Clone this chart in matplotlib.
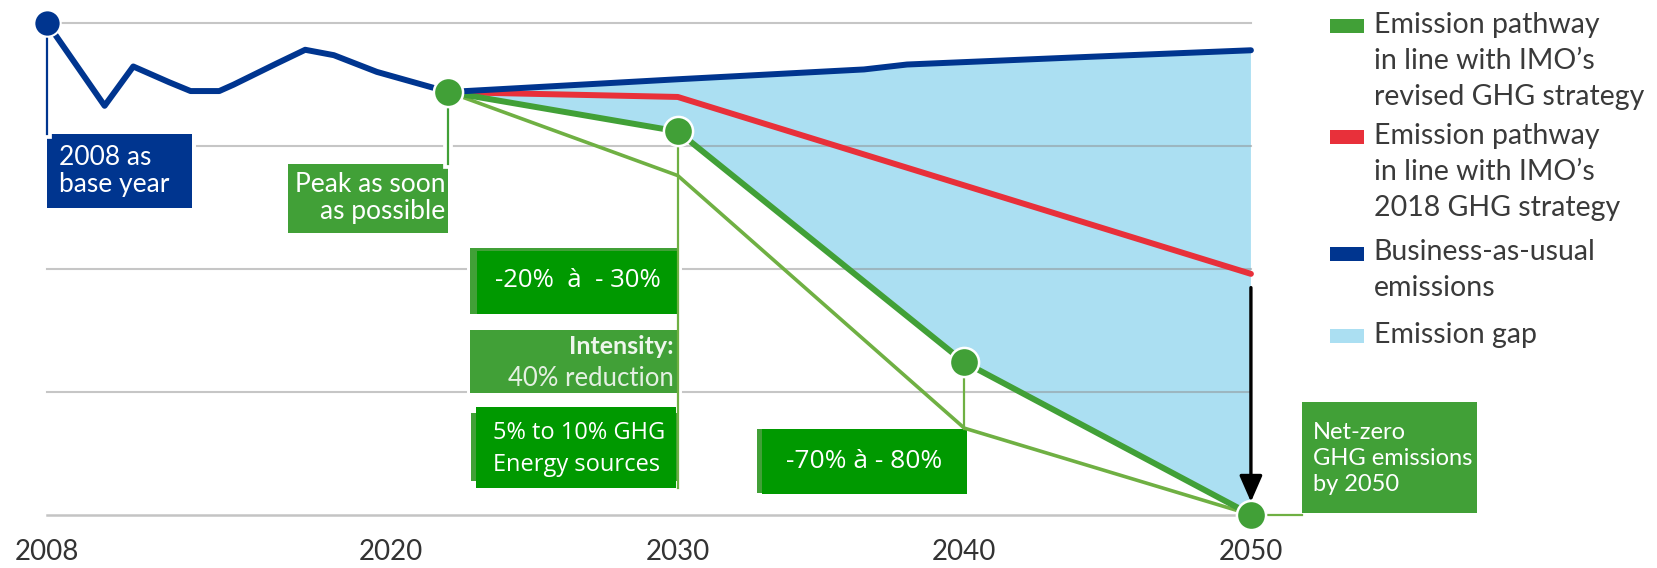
import numpy as np
import matplotlib.pyplot as plt
from matplotlib.patches import Rectangle
import matplotlib.patheffects as pe

plt.rcParams['font.family'] = ['Lato', 'DejaVu Sans']

# Data (index, 2008 = 100)
bau_years = [2008, 2010, 2011, 2012.25, 2013, 2014, 2014.5, 2016, 2017, 2018, 2019.5, 2022,
             2030, 2036.5, 2038, 2044.5, 2050]
bau_values = [100, 83.2, 91.2, 88, 86.2, 86.2, 87.5, 91.8, 94.6, 93.5, 90.1, 86,
              88.6, 90.6, 91.6, 93.2, 94.5]
peak_year = 2022

strategy2018_years = [2022, 2030, 2050]
strategy2018_values = [86, 85, 49]

revised_years = [2022, 2030, 2040, 2050]
revised_values = [86, 78, 31, 0]

lower_years = [2022, 2030, 2040, 2050]
lower_values = [86, 69, 17.6, 0]

tick_years = [2008, 2020, 2030, 2040, 2050]
grid_levels = [100, 75, 50, 25]

legend_labels = ["Emission pathway\nin line with IMO’s\nrevised GHG strategy",
                 "Emission pathway\nin line with IMO’s\n2018 GHG strategy",
                 "Business-as-usual\nemissions",
                 "Emission gap"]

NAVY = '#00358f'
RED = '#e8303a'
GREEN = '#41a037'
LIGHT_GREEN = '#6fb043'
BOX_GREEN = '#009900'
GAP_BLUE = '#abdff2'

fig = plt.figure(figsize=(16.57, 5.68), dpi=100)
ax = fig.add_axes([0, 0, 1, 1])
ax.set_xlim(2006.35, 2064.17)
ax.set_ylim(-10.86, 104.73)
ax.axis('off')

# emission gap (between BAU and revised pathway)
future = [i for i, y in enumerate(bau_years) if y >= peak_year]
gap_x = np.concatenate([np.array(bau_years)[future], revised_years[::-1]])
gap_y = np.concatenate([np.array(bau_values)[future], revised_values[::-1]])
ax.fill(gap_x, gap_y, color=GAP_BLUE, lw=0, zorder=1)

# grid lines
for g in grid_levels:
    ax.plot([2008, 2050], [g, g], color='#8f8f8f', alpha=0.5, lw=1.5, zorder=2)
ax.plot([2008, 2050], [0, 0], color='#c4c4c4', lw=1.8, zorder=2)


def box(x0, x1, y0, y1, color, z=3):
    ax.add_patch(Rectangle((x0, y0), x1 - x0, y1 - y0, facecolor=color,
                           edgecolor='white', lw=5, zorder=z))
    ax.add_patch(Rectangle((x0, y0), x1 - x0, y1 - y0, facecolor=color,
                           edgecolor='none', zorder=z + 0.1))


# annotation boxes
box(2008.0, 2013.06, 62.4, 77.4, NAVY)
box(2016.4, peak_year, 57.4, 71.4, GREEN)
box(2022.76, 2030, 40.9, 54.2, GREEN)
ax.add_patch(Rectangle((2023.0, 40.9), 7.0, 12.8, facecolor=BOX_GREEN, zorder=3.5))
box(2022.76, 2030, 24.7, 37.6, GREEN)
box(2022.8, 2030, 6.8, 20.6, GREEN)
ax.add_patch(Rectangle((2022.95, 5.4), 7.0, 16.5, facecolor=BOX_GREEN, zorder=3.5))
box(2032.75, 2040, 4.4, 17.4, GREEN)
ax.add_patch(Rectangle((2032.95, 4.1), 7.15, 13.3, facecolor=BOX_GREEN, zorder=3.5))
box(2051.78, 2057.9, 0.4, 23, GREEN)

# connector lines
white = [pe.withStroke(linewidth=7, foreground='white')]
ax.plot([2008, 2008], [100, 77.4], color=NAVY, lw=1.6, zorder=4, path_effects=white)
ax.plot([peak_year, peak_year], [86, 71.4], color=GREEN, lw=1.6, zorder=4, path_effects=white)
ax.plot([2030, 2030], [78, 5.4], color=LIGHT_GREEN, lw=1.6, zorder=4)
ax.plot([2040, 2040], [31, 17.4], color=LIGHT_GREEN, lw=1.6, zorder=4)
ax.plot([2050, 2051.78], [0, 0], color=LIGHT_GREEN, lw=1.6, zorder=4)

# lines
ax.plot(lower_years, lower_values, color=LIGHT_GREEN, lw=2.6, zorder=5,
        solid_capstyle='round')
ax.plot(strategy2018_years, strategy2018_values, color=RED, lw=4.3, zorder=5,
        solid_capstyle='round')
ax.plot(revised_years, revised_values, color=GREEN, lw=4.3, zorder=6,
        solid_capstyle='round')
ax.plot(bau_years, bau_values, color=NAVY, lw=4.3, zorder=7,
        solid_capstyle='round', solid_joinstyle='round')

# markers
ax.plot(bau_years[0], bau_values[0], 'o', ms=19, color=NAVY, mec='white', mew=1.5, zorder=8)
ax.plot(revised_years, revised_values, 'o', ms=21, color=GREEN, mec='white', mew=1.8, zorder=8)

# arrow from 2018 strategy to net zero
ax.annotate('', xy=(2050, 2.6), xytext=(2050, 46.2),
            arrowprops=dict(arrowstyle='-|>,head_width=0.7,head_length=1.6',
                            color='black', lw=2.4, shrinkA=0, shrinkB=0), zorder=9)

# box texts
ax.text(2008.4, 69.9, "2008 as\nbase year", color='white', fontsize=19,
        ha='left', va='center', linespacing=1.1, zorder=10)
ax.text(2021.9, 64.4, "Peak as soon\nas possible", color='white', fontsize=19,
        ha='right', va='center', multialignment='right', linespacing=1.1, zorder=10)
ax.text(2026.5, 47.6, "-20%  à  - 30%", color='white', fontsize=18.5, family=['Open Sans', 'DejaVu Sans'],
        ha='center', va='center', zorder=10)
ax.text(2029.85, 34.2, "Intensity:", color='#eef6ec', fontsize=18, fontweight='bold',
        ha='right', va='center', zorder=10)
ax.text(2029.85, 27.8, "40% reduction", color='#e4f0e2', fontsize=18.5,
        ha='right', va='center', zorder=10)
ax.text(2023.57, 13.4, "5% to 10% GHG\nEnergy sources", color='white', fontsize=17,
        family=['Open Sans', 'DejaVu Sans'], ha='left', va='center', linespacing=1.45, zorder=10)
ax.text(2036.5, 10.8, "-70% à - 80%", color='white', fontsize=19, family=['Open Sans', 'DejaVu Sans'],
        ha='center', va='center', zorder=10)
ax.text(2052.15, 11.5, "Net-zero\nGHG emissions\nby 2050", color='white', fontsize=17,
        ha='left', va='center', linespacing=1.3, zorder=10)

# x tick labels
for yr in tick_years:
    ax.text(yr, -7.6, str(yr), color='#333333', fontsize=20, ha='center', va='center')

# legend drawn by hand (square patch aligned with first line)
W, H = 1657, 568
legend_colors = [GREEN, RED, NAVY, GAP_BLUE]
legend_rows = [26.4, 137.4, 253.6, 336.1]
for lab, col, yrow in zip(legend_labels, legend_colors, legend_rows):
    fig.patches.append(Rectangle((1329.5 / W, 1 - (yrow + 7) / H), 34 / W, 14 / H,
                                 facecolor=col, edgecolor='none',
                                 transform=fig.transFigure, figure=fig))
    fig.text(1373.8 / W, 1 - (yrow - 14.5) / H, lab, color='#3a3a3a', fontsize=20.5,
             ha='left', va='top', linespacing=1.47)

fig.savefig('out.png', dpi=100)
